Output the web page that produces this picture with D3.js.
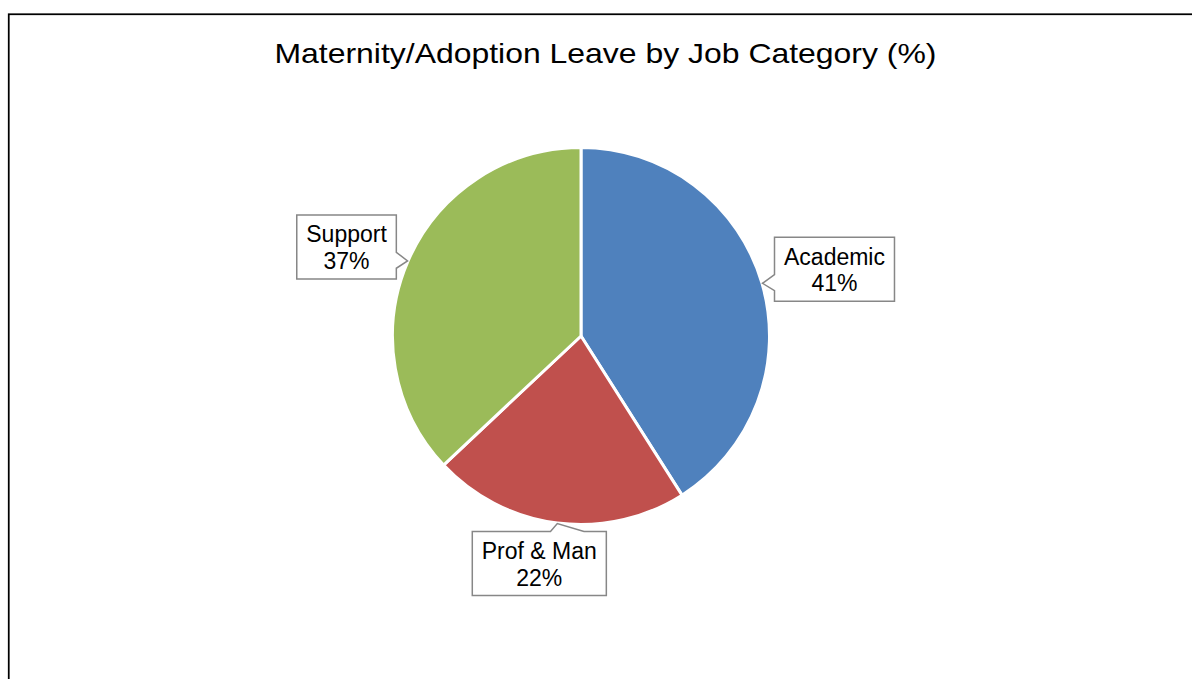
<!DOCTYPE html>
<html>
<head>
<meta charset="utf-8">
<script src="https://cdn.jsdelivr.net/npm/d3@7/dist/d3.min.js"></script>
<style>
  html, body { margin: 0; padding: 0; background: #fff; overflow: hidden; }
  svg { display: block; }
  text { font-family: "Liberation Sans", Arial, sans-serif; fill: #000; }
</style>
</head>
<body>
<svg id="chart" width="1192" height="679"></svg>
<script>
// Job categories and their share of maternity/adoption leave (%)
const categories = ["Academic", "Prof & Man", "Support"];
const shares = [41, 22, 37];
const sliceColors = ["#4F81BD", "#C0504D", "#9BBB59"];
const chartTitle = "Maternity/Adoption Leave by Job Category (%)";

// Callout box offsets (box centre relative to the wedge tip)
const calloutShift = [[72, -14], [-18, 40], [-61, -14]];

const W = 1192, H = 679;
const svg = d3.select("#chart");

// Chart-area frame (runs past the right and bottom edges of the view)
svg.append("rect")
  .attr("x", 8.75).attr("y", 14.25)
  .attr("width", 1194).attr("height", 700)
  .attr("fill", "#fff")
  .attr("stroke", "#000")
  .attr("stroke-width", 1.75);

// Title
const title = svg.append("text")
  .attr("x", 605.5).attr("y", 63)
  .attr("text-anchor", "middle")
  .style("font-size", "28px")
  .text(chartTitle);
title.attr("textLength", 662).attr("lengthAdjust", "spacingAndGlyphs");

// Pie
const cx = 581, cy = 336, R = 188.5;
const data = categories.map((c, i) => ({ name: c, value: shares[i], color: sliceColors[i] }));

const pie = d3.pie().value(d => d.value).sort(null).startAngle(0).endAngle(2 * Math.PI);
const arcs = pie(data);
const arc = d3.arc().innerRadius(0).outerRadius(R);
const tipArc = d3.arc().innerRadius(R + 0.5).outerRadius(R + 0.5);

const g = svg.append("g").attr("transform", `translate(${cx},${cy})`);
g.selectAll("path.slice")
  .data(arcs)
  .join("path")
  .attr("class", "slice")
  .attr("d", arc)
  .attr("fill", d => d.data.color)
  .attr("stroke", "#fff")
  .attr("stroke-width", 3)
  .attr("stroke-linejoin", "round");

// Rectangular callout with a wedge pointing at (ax, ay)
function calloutPath(x, y, w, h, ax, ay) {
  const hc = x + w / 2, vc = y + h / 2;
  const dxPos = ax - hc, dyPos = ay - vc;
  const dq = dxPos * h / w;
  const p = d3.path();
  const xa = x + w * (dxPos > 0 ? 7 : 2) / 12, xb = x + w * (dxPos > 0 ? 10 : 5) / 12;
  const ya = y + h * (dyPos > 0 ? 7 : 2) / 12, yb = y + h * (dyPos > 0 ? 10 : 5) / 12;
  const vertical = Math.abs(dyPos) > Math.abs(dq);
  p.moveTo(x, y);
  if (vertical && dyPos < 0) { p.lineTo(xa, y); p.lineTo(ax, ay); p.lineTo(xb, y); }
  p.lineTo(x + w, y);
  if (!vertical && dxPos > 0) { p.lineTo(x + w, ya); p.lineTo(ax, ay); p.lineTo(x + w, yb); }
  p.lineTo(x + w, y + h);
  if (vertical && dyPos > 0) { p.lineTo(xb, y + h); p.lineTo(ax, ay); p.lineTo(xa, y + h); }
  p.lineTo(x, y + h);
  if (!vertical && dxPos < 0) { p.lineTo(x, yb); p.lineTo(ax, ay); p.lineTo(x, ya); }
  p.closePath();
  return p.toString();
}

// Data labels
const labels = svg.append("g");
arcs.forEach((a, i) => {
  const [tx, ty] = tipArc.centroid(a);
  const ax = cx + tx, ay = cy + ty;
  const bx = ax + calloutShift[i][0], by = ay + calloutShift[i][1];

  const lg = labels.append("g");
  const box = lg.append("path");
  const t1 = lg.append("text").attr("text-anchor", "middle").style("font-size", "23px")
    .attr("x", bx).text(a.data.name);
  const t2 = lg.append("text").attr("text-anchor", "middle").style("font-size", "23px")
    .attr("x", bx).text(a.data.value + "%");
  const tw = Math.max(t1.node().getComputedTextLength(), t2.node().getComputedTextLength());
  const bw = tw + 19, bh = 64;
  const x0 = bx - bw / 2, y0 = by - bh / 2;
  t1.attr("y", y0 + 27.5);
  t2.attr("y", y0 + 54);
  box.attr("d", calloutPath(x0, y0, bw, bh, ax, ay))
    .attr("fill", "#fff")
    .attr("stroke", "#878787")
    .attr("stroke-width", 1.5)
    .attr("stroke-linejoin", "miter");
});
</script>
</body>
</html>
